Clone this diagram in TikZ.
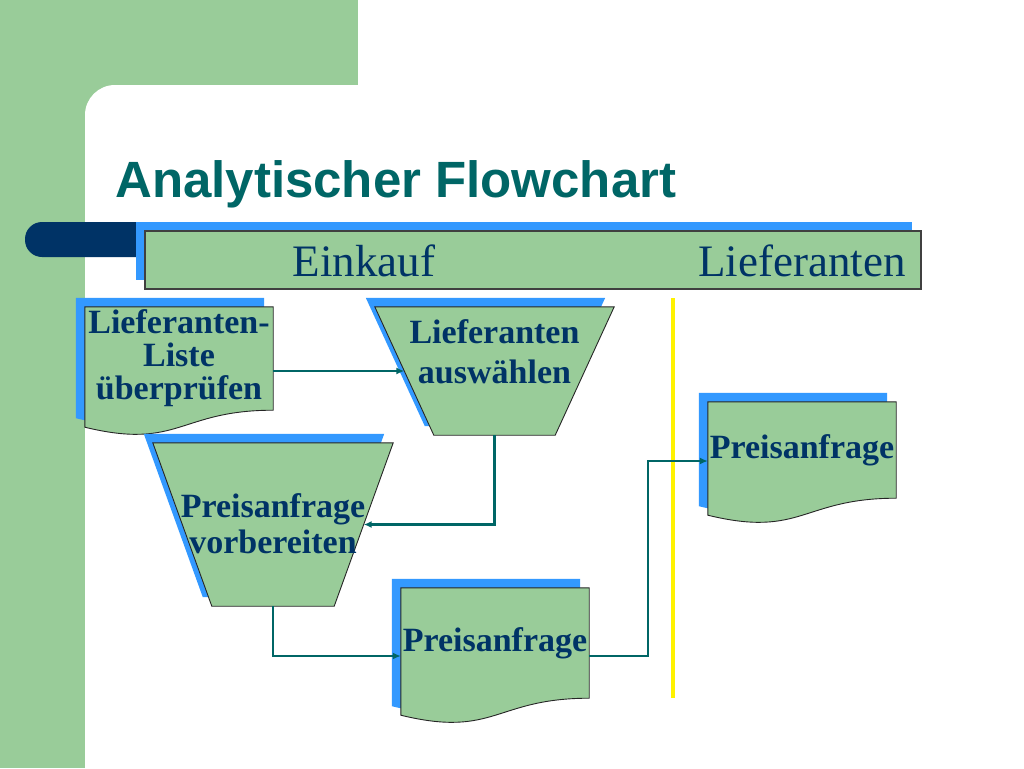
\documentclass[tikz,border=0pt]{standalone}
\usepackage{fontspec}
\setmainfont{Liberation Serif}
\newfontfamily\titlefont{Liberation Sans}
\usetikzlibrary{shadows,backgrounds,calc,arrows.meta}

\definecolor{panelgreen}{RGB}{153,204,153}
\definecolor{shadowblue}{RGB}{51,153,255}
\definecolor{textblue}{RGB}{0,51,102}
\definecolor{tealtext}{RGB}{0,102,102}

\tikzset{
  shape line/.style={draw=black!85, line width=0.9pt},
  blue shadow/.style={general shadow={fill=shadowblue, shadow xshift=-9pt, shadow yshift=9pt}},
  docbox/.style={minimum width=188pt, inner sep=0pt, align=center, text=textblue, font=\fontsize{34}{33}\selectfont\bfseries},
  trapbox/.style={inner sep=0pt},
  traptext/.style={align=center, text=textblue, font=\fontsize{34}{36}\selectfont\bfseries},
  lanelabel/.style={anchor=base, text=textblue, font=\fontsize{45}{45}\selectfont},
  flow/.style={draw=tealtext, line width=2.2pt, -{Latex[length=8pt,width=7pt]}},
}

% outline of a document box: flat top, wavy bottom
\newcommand{\docoutline}[2]{%
  ($(#1.north west)+#2$) -- ($(#1.north east)+#2$) -- ($(#1.south east)+#2$)
  .. controls ($(#1.south)+#2$) and ($(#1.south)+(0,40)+#2$) .. ($(#1.south west)+(0,17)+#2$) -- cycle}
% outline of a process box: wide top, narrow bottom
\newcommand{\trapoutline}[3]{%
  ($(#1.north west)+#3$) -- ($(#1.north east)+#3$) -- ($(#1.south east)+(-#2,0)+#3$)
  -- ($(#1.south west)+(#2,0)+#3$) -- cycle}

\begin{document}
\begin{tikzpicture}[x=1pt, y=-1pt]
\path[use as bounding box] (0,0) rectangle (1024,768);
\begin{scope}[on background layer]
\clip (0,0) rectangle (1024,768);
\fill[panelgreen] (0,0) rectangle (358,85);
\fill[panelgreen] (0,0) rectangle (85,768);
\fill[panelgreen] (85,85) rectangle (125,125);
\fill[white, rounded corners=30pt] (85,85) rectangle (1080,820);
\end{scope}

\node[anchor=base west, inner sep=0pt, text=tealtext, font=\titlefont\fontsize{51}{51}\selectfont\bfseries] (title) at (115,197) {Analytischer Flowchart};

% lane header
\fill[textblue, rounded corners=17pt] (25,222) rectangle (180,257);
\node[draw=black!75, line width=1.2pt, fill=panelgreen, minimum width=776pt, minimum height=58pt, blue shadow] (lanes) at (533,260) {};
\node[lanelabel] (ein) at (364,276) {Einkauf};
\node[lanelabel] (lief) at (802,276) {Lieferanten};
\draw[yellow, line width=4pt] (673,298) -- (673,698);

% documents
\node[docbox, minimum height=103pt] (chk) at (179,358.5) {Lieferanten-\\Liste\\überprüfen};
\node[docbox, minimum height=110pt] (rq1) at (495,643) {Preisanfrage};
\node[docbox, minimum height=96pt] (rq2) at (802,450) {Preisanfrage};

% processes
\node[trapbox, minimum width=239pt, minimum height=128pt,
  label={[traptext, font=\fontsize{34}{40}\selectfont\bfseries, yshift=19pt]center:{Lieferanten\\auswählen}}] (sel) at (494.5,371) {};
\node[trapbox, minimum width=240pt, minimum height=163pt,
  label={[traptext, yshift=1pt]center:{Preisanfrage\\vorbereiten}}] (prep) at (273,524.5) {};

\begin{scope}[on background layer]
\foreach \d in {chk,rq1,rq2}{
  \fill[shadowblue] \docoutline{\d}{(-9,-9)};
  \filldraw[fill=panelgreen, shape line] \docoutline{\d}{(0,0)};
}
\foreach \t in {sel,prep}{
  \fill[shadowblue] \trapoutline{\t}{59}{(-9,-9)};
  \filldraw[fill=panelgreen, shape line] \trapoutline{\t}{59}{(0,0)};
}
\end{scope}

\draw[flow] (chk.east |- sel) -- ([xshift=29.5pt]sel.west);
\draw[flow] (sel.south) |- ([xshift=-29.5pt]prep.east);
\draw[flow] (prep.south) |- ([yshift=-13pt]rq1.west);
\draw[flow] ([yshift=-13pt]rq1.east) -- ++(59,0) |- ([yshift=-11pt]rq2.west);
\end{tikzpicture}
\end{document}
